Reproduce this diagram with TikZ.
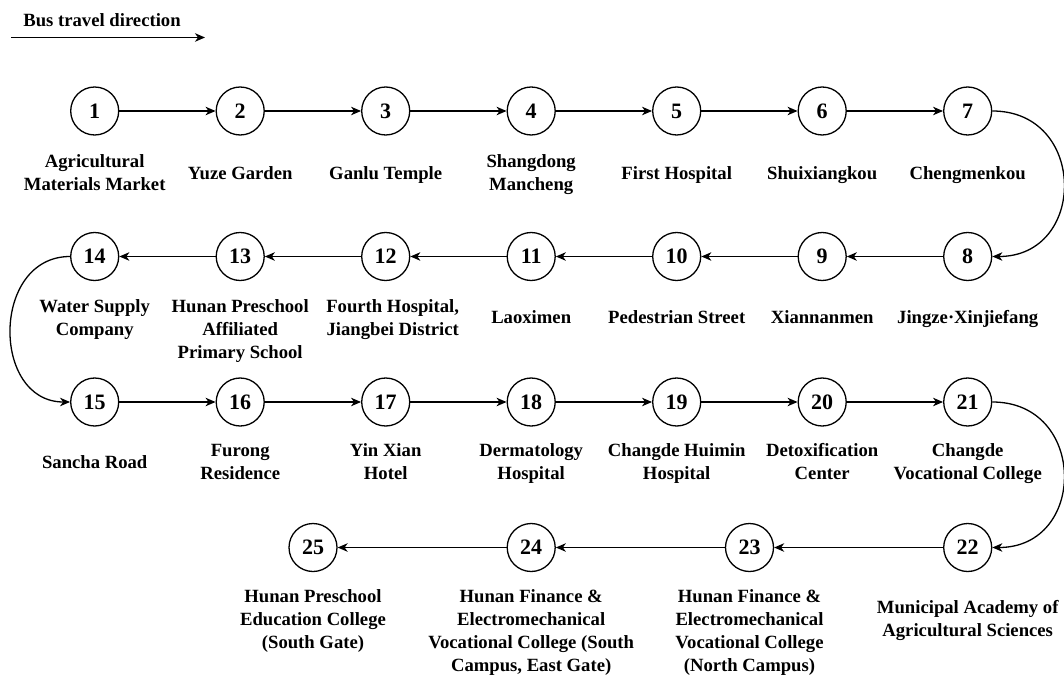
\documentclass[tikz,border=0pt]{standalone}
\usepackage{fontspec}
\setmainfont{Liberation Serif}
\usetikzlibrary{arrows.meta}
\newcommand{\lstrut}{\rule{0pt}{15pt}}
\tikzset{
  stn/.style={circle, draw=black, line width=1.3pt, fill=white, minimum size=48pt, inner sep=0pt,
    font=\fontsize{22}{26}\selectfont\bfseries},
  lbl/.style={anchor=north, inner sep=0pt, align=center,
    font=\fontsize{18.67}{23.1}\selectfont\bfseries},
  arr/.style={line width=1.3pt, -{Stealth[length=10pt,width=8.5pt,inset=3pt]}},
}
\begin{document}
\begin{tikzpicture}[x=1pt,y=-1pt]
\path[use as bounding box, fill=white] (0,0) rectangle (1064,676);
% legend
\node[anchor=base, inner sep=0pt, font=\fontsize{18.67}{23}\selectfont\bfseries] (title) at (102,26.7) {Bus travel direction};
\coordinate (dirA) at (11,37.5);
\coordinate (dirB) at (205,37.5);
\draw[arr] (dirA) -- (dirB);
% stations row 1
\node[stn] (s1) at (94.7,111) {1};
\node[stn] (s2) at (240.2,111) {2};
\node[stn] (s3) at (385.7,111) {3};
\node[stn] (s4) at (531.2,111) {4};
\node[stn] (s5) at (676.7,111) {5};
\node[stn] (s6) at (822.2,111) {6};
\node[stn] (s7) at (967.7,111) {7};
% row 2
\node[stn] (s8) at (967.7,256.5) {8};
\node[stn] (s9) at (822.2,256.5) {9};
\node[stn] (s10) at (676.7,256.5) {10};
\node[stn] (s11) at (531.2,256.5) {11};
\node[stn] (s12) at (385.7,256.5) {12};
\node[stn] (s13) at (240.2,256.5) {13};
\node[stn] (s14) at (94.7,256.5) {14};
% row 3
\node[stn] (s15) at (94.7,402) {15};
\node[stn] (s16) at (240.2,402) {16};
\node[stn] (s17) at (385.7,402) {17};
\node[stn] (s18) at (531.2,402) {18};
\node[stn] (s19) at (676.7,402) {19};
\node[stn] (s20) at (822.2,402) {20};
\node[stn] (s21) at (967.7,402) {21};
% row 4
\node[stn] (s22) at (967.7,547.5) {22};
\node[stn] (s23) at (749.5,547.5) {23};
\node[stn] (s24) at (531.2,547.5) {24};
\node[stn] (s25) at (313,547.5) {25};
% labels row 1
\node[lbl] (l1) at (94.7,152.5) {\lstrut Agricultural\\Materials Market};
\node[lbl] (l2) at (240.2,164) {\lstrut Yuze Garden};
\node[lbl] (l3) at (385.7,164) {\lstrut Ganlu Temple};
\node[lbl] (l4) at (531.2,152.5) {\lstrut Shangdong\\Mancheng};
\node[lbl] (l5) at (676.7,164) {\lstrut First Hospital};
\node[lbl] (l6) at (822.2,164) {\lstrut Shuixiangkou};
\node[lbl] (l7) at (967.7,164) {\lstrut Chengmenkou};
% labels row 2
\node[lbl] (l8) at (967.7,308) {\lstrut Jingze·Xinjiefang};
\node[lbl] (l9) at (822.2,308) {\lstrut Xiannanmen};
\node[lbl] (l10) at (676.7,308) {\lstrut Pedestrian Street};
\node[lbl] (l11) at (531.2,308) {\lstrut Laoximen};
\node[lbl] (l12) at (392.7,297) {\lstrut Fourth Hospital,\\Jiangbei District};
\node[lbl] (l13) at (240.2,297) {\lstrut Hunan Preschool\\Affiliated\\Primary School};
\node[lbl] (l14) at (94.7,297) {\lstrut Water Supply\\Company};
% labels row 3
\node[lbl] (l15) at (94.7,453) {\lstrut Sancha Road};
\node[lbl] (l16) at (240.2,441.5) {\lstrut Furong\\Residence};
\node[lbl] (l17) at (385.7,441.5) {\lstrut Yin Xian\\Hotel};
\node[lbl] (l18) at (531.2,441.5) {\lstrut Dermatology\\Hospital};
\node[lbl] (l19) at (676.7,441.5) {\lstrut Changde Huimin\\Hospital};
\node[lbl] (l20) at (822.2,441.5) {\lstrut Detoxification\\Center};
\node[lbl] (l21) at (967.7,441.5) {\lstrut Changde\\Vocational College};
% labels row 4
\node[lbl] (l22) at (967.7,598.5) {\lstrut Municipal Academy of\\Agricultural Sciences};
\node[lbl] (l23) at (749.5,587) {\lstrut Hunan Finance \&\\Electromechanical\\Vocational College\\(North Campus)};
\node[lbl] (l24) at (531.2,587) {\lstrut Hunan Finance \&\\Electromechanical\\Vocational College (South\\Campus, East Gate)};
\node[lbl] (l25) at (313,587) {\lstrut Hunan Preschool\\Education College\\(South Gate)};
% connectors
\draw[arr] (s1) -- (s2);
\draw[arr] (s2) -- (s3);
\draw[arr] (s3) -- (s4);
\draw[arr] (s4) -- (s5);
\draw[arr] (s5) -- (s6);
\draw[arr] (s6) -- (s7);
\draw[arr] (s7.east) .. controls +(95,0) and +(95,0) .. (s8.east);
\draw[arr] (s8) -- (s9);
\draw[arr] (s9) -- (s10);
\draw[arr] (s10) -- (s11);
\draw[arr] (s11) -- (s12);
\draw[arr] (s12) -- (s13);
\draw[arr] (s13) -- (s14);
\draw[arr] (s14.west) .. controls +(-79,0) and +(-79,0) .. (s15.west);
\draw[arr] (s15) -- (s16);
\draw[arr] (s16) -- (s17);
\draw[arr] (s17) -- (s18);
\draw[arr] (s18) -- (s19);
\draw[arr] (s19) -- (s20);
\draw[arr] (s20) -- (s21);
\draw[arr] (s21.east) .. controls +(95,0) and +(95,0) .. (s22.east);
\draw[arr] (s22) -- (s23);
\draw[arr] (s23) -- (s24);
\draw[arr] (s24) -- (s25);
\end{tikzpicture}
\end{document}
